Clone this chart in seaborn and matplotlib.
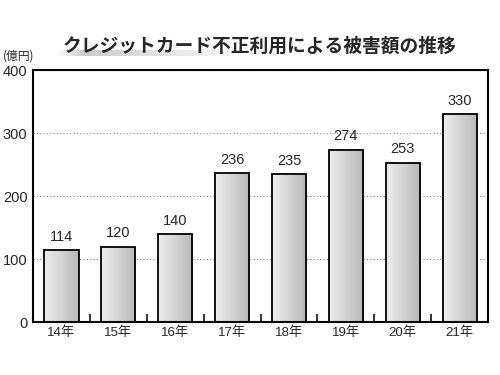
import numpy as np
import pandas as pd
import matplotlib
matplotlib.use('Agg')
import matplotlib.pyplot as plt
import seaborn as sns
from matplotlib.ticker import FixedLocator

years = ['14年', '15年', '16年', '17年', '18年', '19年', '20年', '21年']
damage = [114, 120, 140, 236, 235, 274, 253, 330]
title = 'クレジットカード不正利用による被害額の推移'
unit = '(億円)'

df = pd.DataFrame({'year': years, 'damage': damage})

sns.set_style('white')
plt.rcParams['font.family'] = ['Liberation Sans', 'Noto Sans CJK JP', 'DejaVu Sans']

fig = plt.figure(figsize=(5, 3.75), dpi=100)
ax = fig.add_axes([0.066, 0.141, 0.91, 0.672])

sns.barplot(data=df, x='year', y='damage', color='white', width=0.6,
            edgecolor='black', linewidth=1.3, ax=ax, zorder=3)

# horizontal gradient inside every bar
grad = np.linspace(0.93, 0.72, 64).reshape(1, -1)
for p in ax.patches:
    x0, y0 = p.get_x(), p.get_y()
    w, h = p.get_width(), p.get_height()
    im = ax.imshow(grad, cmap='gray', vmin=0, vmax=1, aspect='auto',
                   extent=[x0, x0 + w, y0, y0 + h], zorder=2.5,
                   interpolation='bicubic')
    im.set_clip_path(p)
    p.set_facecolor('none')

for i, v in enumerate(damage):
    ax.text(i, v + 10, str(v), ha='center', va='bottom', fontsize=10.5)

ax.set_xlim(-0.5, 7.5)
ax.set_ylim(0, 400)
ax.set_yticks([0, 100, 200, 300, 400])
ax.yaxis.grid(True, linestyle=(0, (1, 2)), color='#888888', linewidth=0.8)
ax.set_axisbelow(True)
ax.set_xlabel('')
ax.set_ylabel('')
ax.tick_params(axis='y', length=0, labelsize=10.5, pad=4)
ax.tick_params(axis='x', which='major', length=0, labelsize=9.5, pad=3)
ax.xaxis.set_minor_locator(FixedLocator([0.5, 1.5, 2.5, 3.5, 4.5, 5.5, 6.5]))
ax.tick_params(axis='x', which='minor', direction='in', length=6, width=1.3, bottom=True)
for s in ax.spines.values():
    s.set_linewidth(1.5)
    s.set_color('black')

# title with a grey fading bar underneath
bar_ax = fig.add_axes([0.11, 0.85, 0.4, 0.016])
fade = np.concatenate([np.linspace(1.0, 0.8, 10), np.linspace(0.8, 1.0, 54)])
bar_ax.imshow(fade.reshape(1, -1), cmap='gray', vmin=0, vmax=1, aspect='auto',
              interpolation='bicubic')
bar_ax.axis('off')
fig.text(0.52, 0.877, title, ha='center', va='center', fontsize=13.5,
         fontweight='bold', family=['Noto Sans CJK JP'], zorder=5)
fig.text(0.005, 0.85, unit, ha='left', va='center', fontsize=8.5,
         family=['Noto Sans CJK JP'])

fig.savefig('out.png', dpi=100)
